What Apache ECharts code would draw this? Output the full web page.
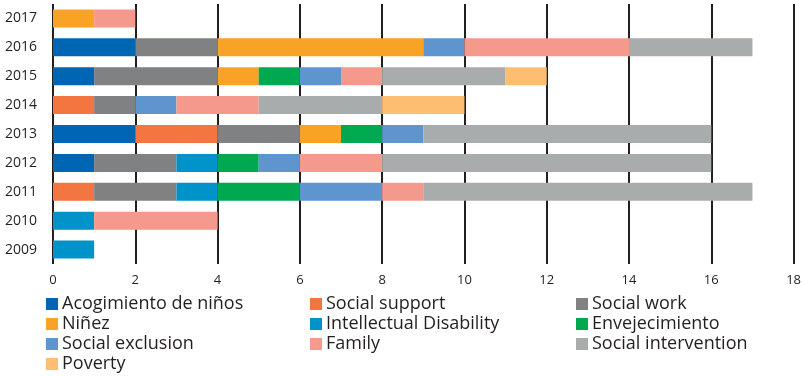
<!DOCTYPE html>
<html><head><meta charset="utf-8">
<script src="https://cdn.jsdelivr.net/npm/echarts@6/dist/echarts.min.js"></script>
<style>html,body{margin:0;padding:0;background:#fff}#c{width:804px;height:376px}</style>
</head><body><div id="c"></div>
<script>
const years = ['2009','2010','2011','2012','2013','2014','2015','2016','2017'];
const seriesNames = ['Acogimiento de niños','Social support','Social work','Niñez','Intellectual Disability','Envejecimiento','Social exclusion','Family','Social intervention','Poverty'];
const colors = ['#0066b3','#f37540','#7f8183','#f9a326','#0093c9','#00a84f','#5f95cf','#f4998b','#a9acad','#fdbe72'];
// values per year 2009..2017
const acogimiento   = [0,0,0,1,2,0,1,2,0];
const socialSupport = [0,0,1,0,2,1,0,0,0];
const socialWork    = [0,0,2,2,2,1,3,2,0];
const ninez         = [0,0,0,0,1,0,1,5,1];
const intellectual  = [1,1,1,1,0,0,0,0,0];
const envejecimiento= [0,0,2,1,1,0,1,0,0];
const socialExcl    = [0,0,2,1,1,1,1,1,0];
const family        = [0,3,1,2,0,2,1,4,1];
const socialInterv  = [0,0,8,8,7,3,3,3,0];
const poverty       = [0,0,0,0,0,2,1,0,0];
const values = [acogimiento,socialSupport,socialWork,ninez,intellectual,envejecimiento,socialExcl,family,socialInterv,poverty];
const xTicks = {min:0,max:18,interval:2};

const font = '"Open Sans", sans-serif';
const chart = echarts.init(document.getElementById('c'), null, {renderer:'canvas'});
const legendBase = {orient:'vertical',itemWidth:12,itemHeight:12,itemGap:0,icon:'rect',height:100,
  textStyle:{fontFamily:font,fontSize:18,lineHeight:20,color:'#231f20',padding:[0,0,0,-1]},padding:0,selectedMode:false};
chart.setOption({
  animation:false,
  color:colors,
  grid:{left:53,right:10,top:4,bottom:112},
  xAxis:{type:'value',min:xTicks.min,max:xTicks.max,interval:xTicks.interval,
    axisLine:{show:false},axisTick:{show:false},
    axisLabel:{fontFamily:font,fontSize:13,color:'#231f20',margin:10},
    splitLine:{lineStyle:{color:'#231f20',width:2}}},
  yAxis:{type:'category',data:years,axisLine:{show:false},axisTick:{show:false},
    axisLabel:{fontFamily:font,fontSize:14,color:'#231f20',margin:16}},
  legend:[
    Object.assign({left:46,top:294,data:[seriesNames[0],seriesNames[3],seriesNames[6],seriesNames[9]]},legendBase),
    Object.assign({left:310,top:294,data:[seriesNames[1],seriesNames[4],seriesNames[7]]},legendBase),
    Object.assign({left:576,top:294,data:[seriesNames[2],seriesNames[5],seriesNames[8]]},legendBase)
  ],
  series: seriesNames.map((n,i)=>({name:n,type:'bar',stack:'t',barWidth:18,data:values[i].map(v=>v===0?null:v)}))
});
</script></body></html>
